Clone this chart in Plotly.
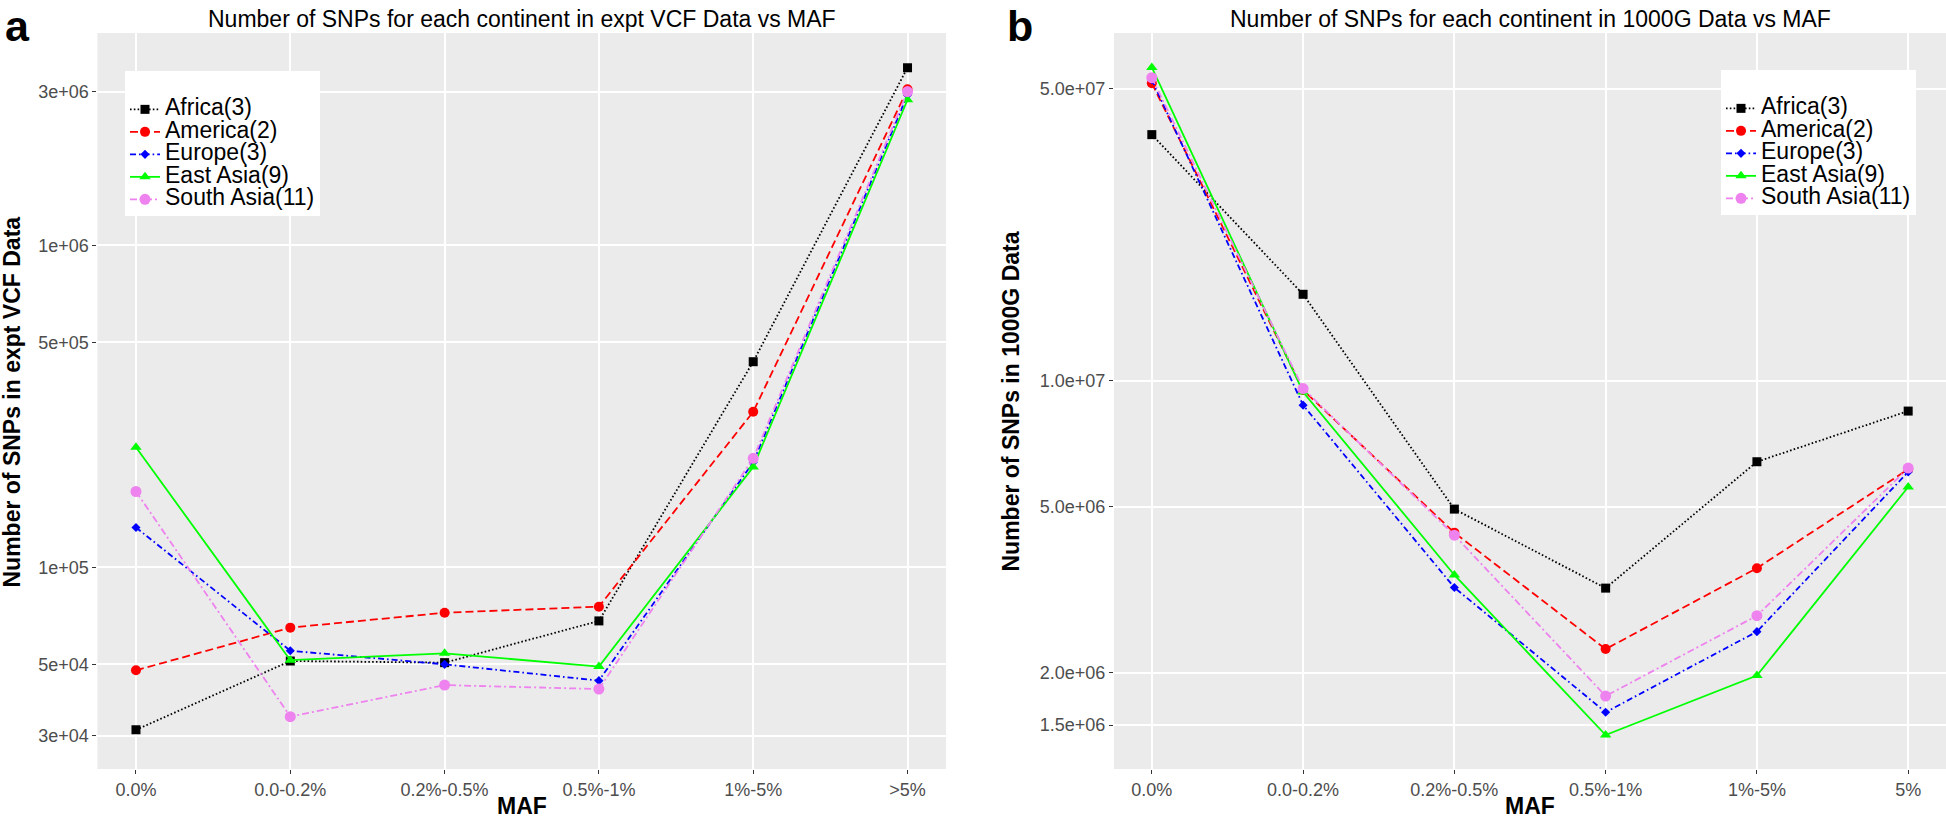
import plotly.graph_objects as go

# ---------------- data ----------------
cats_vcf = ["0.0%", "0.0-0.2%", "0.2%-0.5%", "0.5%-1%", "1%-5%", ">5%"]
cats_1000g = ["0.0%", "0.0-0.2%", "0.2%-0.5%", "0.5%-1%", "1%-5%", "5%"]

series_names = ["Africa(3)", "America(2)", "Europe(3)", "East Asia(9)", "South Asia(11)"]

vcf_africa = [31300, 51200, 50600, 68200, 435000, 3560000]
vcf_america = [47900, 65000, 72300, 75500, 304000, 3050000]
vcf_europe = [133000, 55100, 50000, 44500, 212000, 2930000]
vcf_eastasia = [236000, 51500, 54100, 49200, 205000, 2830000]
vcf_southasia = [172000, 34400, 43100, 41900, 218000, 3000000]

g1k_africa = [38800000, 16100000, 4930000, 3190000, 6400000, 8460000]
g1k_america = [51500000, 9500000, 4330000, 2280000, 3560000, 6140000]
g1k_europe = [52500000, 8740000, 3200000, 1610000, 2510000, 6050000]
g1k_eastasia = [56200000, 9400000, 3430000, 1420000, 1970000, 5570000]
g1k_southasia = [53100000, 9580000, 4270000, 1760000, 2740000, 6180000]

vcf_tickvals = [3e4, 5e4, 1e5, 5e5, 1e6, 3e6]
vcf_ticktext = ["3e+04", "5e+04", "1e+05", "5e+05", "1e+06", "3e+06"]
g1k_tickvals = [1.5e6, 2e6, 5e6, 1e7, 5e7]
g1k_ticktext = ["1.5e+06", "2.0e+06", "5.0e+06", "1.0e+07", "5.0e+07"]

# ---------------- styles ----------------
FONT = "Liberation Sans, Arial, Helvetica, sans-serif"
colors = ["#000000", "#FF0000", "#0000FF", "#00FF00", "#EE82EE"]
symbols = ["square", "circle", "diamond", "triangle-up", "circle"]
msizes = [9, 10, 7, 10, 11]
dashes = ["1.6px,2.2px", "8px,4px", "6px,3px,1.6px,3px", "solid", "7px,3px,2px,3px"]

vcf_data = [vcf_africa, vcf_america, vcf_europe, vcf_eastasia, vcf_southasia]
g1k_data = [g1k_africa, g1k_america, g1k_europe, g1k_eastasia, g1k_southasia]

fig = go.Figure()

for i, name in enumerate(series_names):
    label = '<span style="font-size:23px">%s</span>' % name
    fig.add_trace(go.Scatter(
        x=cats_vcf, y=vcf_data[i], mode="lines+markers", name=label,
        line=dict(color=colors[i], width=1.8, dash=dashes[i]),
        marker=dict(symbol=symbols[i], size=msizes[i], color=colors[i], line=dict(width=0)),
        xaxis="x", yaxis="y", legend="legend",
    ))
for i, name in enumerate(series_names):
    label = '<span style="font-size:23px">%s</span>' % name
    fig.add_trace(go.Scatter(
        x=cats_1000g, y=g1k_data[i], mode="lines+markers", name=label,
        line=dict(color=colors[i], width=1.8, dash=dashes[i]),
        marker=dict(symbol=symbols[i], size=msizes[i], color=colors[i], line=dict(width=0)),
        xaxis="x2", yaxis="y2", legend="legend2",
    ))

W, H = 1946, 821
ydom = [1 - 769 / H, 1 - 33 / H]

common_x = dict(
    type="category", range=[-0.25, 5.25], showgrid=True, gridcolor="white", gridwidth=2,
    ticks="outside", ticklen=4, tickwidth=1, tickcolor="#333333",
    tickfont=dict(family=FONT, size=18, color="#4D4D4D"),
    zeroline=False, showline=False, fixedrange=True,
)
common_y = dict(
    type="log", showgrid=True, gridcolor="white", gridwidth=2,
    ticks="outside", ticklen=4, tickwidth=1, tickcolor="#333333",
    tickfont=dict(family=FONT, size=18, color="#4D4D4D"),
    zeroline=False, showline=False, fixedrange=True, tickmode="array",
)

legend_common = dict(
    xanchor="left", yanchor="top", bgcolor="white", borderwidth=0,
    font=dict(family=FONT, size=15, color="black"),
    title=dict(text="\u00a0", font=dict(family=FONT, size=17)),
    tracegroupgap=0,
)

fig.update_layout(
    width=W, height=H,
    margin=dict(l=0, r=0, t=0, b=0),
    paper_bgcolor="white", plot_bgcolor="#EBEBEB",
    font=dict(family=FONT, color="black"),
    xaxis=dict(domain=[97.4 / W, 946.1 / W], anchor="y", **common_x),
    yaxis=dict(domain=ydom, anchor="x", range=[4.374, 6.659],
               tickvals=vcf_tickvals, ticktext=vcf_ticktext, **common_y),
    xaxis2=dict(domain=[1114.0 / W, 1.0], anchor="y2", **common_x),
    yaxis2=dict(domain=ydom, anchor="x2", range=[6.071, 7.832],
                tickvals=g1k_tickvals, ticktext=g1k_ticktext, **common_y),
    legend=dict(x=125 / W, y=1 - 71 / H, **legend_common),
    legend2=dict(x=1721 / W, y=1 - 70 / H, **legend_common),
    hovermode=False,
)

ann = [
    dict(text="<b>a</b>", x=3 / W, y=1.0, xanchor="left", yanchor="top",
         font=dict(size=43, family=FONT, color="black")),
    dict(text="<b>b</b>", x=1005 / W, y=1.0, xanchor="left", yanchor="top",
         font=dict(size=43, family=FONT, color="black")),
    dict(text="Number of SNPs for each continent in expt VCF Data vs MAF", x=522 / W, y=1 - 19 / H,
         xanchor="center", yanchor="middle", font=dict(size=23, family=FONT, color="black")),
    dict(text="Number of SNPs for each continent in 1000G Data vs MAF", x=1530 / W, y=1 - 19 / H,
         xanchor="center", yanchor="middle", font=dict(size=23, family=FONT, color="black")),
    dict(text="<b>MAF</b>", x=522 / W, y=1 - 806 / H, xanchor="center", yanchor="middle",
         font=dict(size=23, family=FONT, color="black")),
    dict(text="<b>MAF</b>", x=1530 / W, y=1 - 806 / H, xanchor="center", yanchor="middle",
         font=dict(size=23, family=FONT, color="black")),
    dict(text="<b>Number of SNPs in expt VCF Data</b>", x=11 / W, y=1 - 402.5 / H, textangle=-90,
         xanchor="center", yanchor="middle", font=dict(size=23, family=FONT, color="black")),
    dict(text="<b>Number of SNPs in 1000G Data</b>", x=1011 / W, y=1 - 401.5 / H, textangle=-90,
         xanchor="center", yanchor="middle", font=dict(size=23, family=FONT, color="black")),
]
for a in ann:
    a.update(xref="paper", yref="paper", showarrow=False)
fig.update_layout(annotations=ann)

fig.write_html("out.html", config={"displayModeBar": False},
               post_script="document.body.style.margin='0';document.body.style.overflow='hidden';")
